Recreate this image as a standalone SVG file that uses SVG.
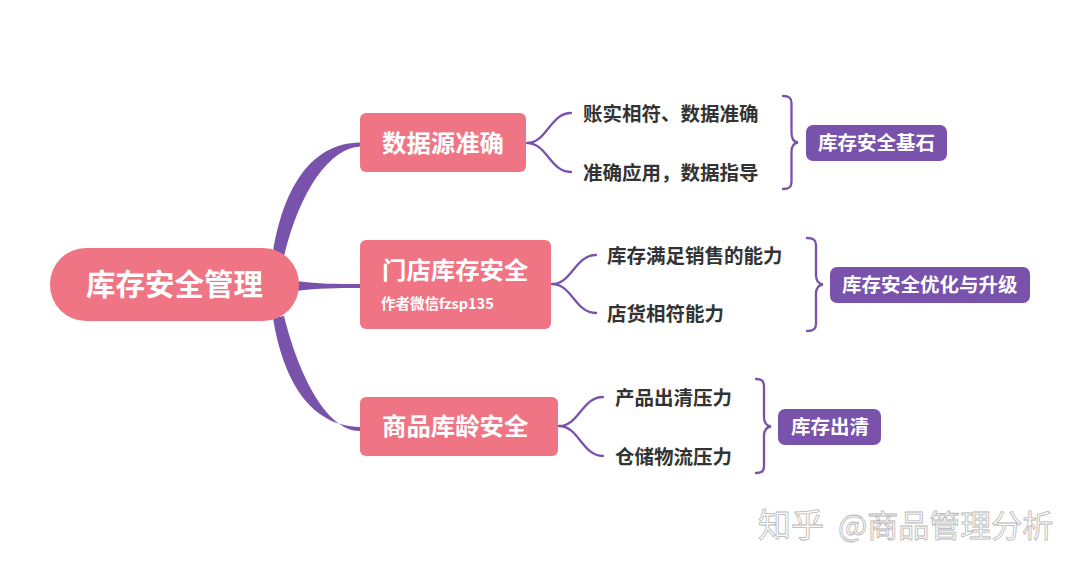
<svg xmlns="http://www.w3.org/2000/svg" width="1080" height="569" viewBox="0 0 1080 569">
<style>
text{font-family:"Noto Sans CJK SC","Liberation Sans",sans-serif;font-weight:700;dominant-baseline:central}
.pink{fill:#ef7585}
.tag{fill:#7852ab}
.w{fill:#fff}
.leaf{fill:#333;font-size:19.5px}
.t{fill:#fff;font-size:19.5px}
.n{fill:#fff;font-size:24.4px}
.line{fill:none;stroke:#7852ab;stroke-width:2.300;stroke-linecap:round}
.fat{fill:#7852ab}
</style>
<rect width="1080" height="569" fill="#fff"/>
<g id="connectors">
<path class="fat" d="M273,252C283,190 310,143 360,142.500L360,146.500C330,148 300,190 284,256Z"/>
<path class="fat" d="M296,281C320,284 335,284 360,284L360,288C335,288 320,288 296,291Z"/>
<path class="fat" d="M273,318C283,380 310,426 360,427L360,431C328,431 300,380 284,316Z"/>
<path class="line" d="M527,143C547,143 550,113 571,113M527,143C547,143 550,172 571,172"/>
<path class="line" d="M552,284C572,284 575,255 596,255M552,284C572,284 575,313 596,313"/>
<path class="line" d="M559,426C579,426 582,397 603,397M559,426C579,426 582,456 603,456"/>
<path class="line" d="M783,96C788,96 791.500,97 791.500,103V133C791.500,139 794,142 798,142.500C794,143 791.500,146 791.500,152V182C791.500,188 788,189 783,189"/>
<path class="line" d="M807,238C812,238 816,239 816,245V275C816,281 819,284 823,284.500C819,285 816,288 816,294V324C816,330 812,331 807,331"/>
<path class="line" d="M756,379C761,379 764,380 764,387V417C764,423 767,426 771,426.500C767,427 764,430 764,436V466C764,472 761,473 756,473"/>
</g>
<g id="root"><rect class="pink" x="50" y="248" width="249" height="73" rx="36"/><text class="w" x="86" y="282" font-size="29.500">库存安全管理</text></g>
<g id="n1"><rect class="pink" x="360" y="113" width="166" height="59" rx="6"/><text class="n" x="382" y="141">数据源准确</text></g>
<g id="n2"><rect class="pink" x="360" y="240" width="191" height="89" rx="6"/><text class="n" x="382" y="268.500">门店库存安全</text><text class="w" x="381" y="302" font-size="14.500">作者微信fzsp135</text></g>
<g id="n3"><rect class="pink" x="360" y="397" width="198" height="59" rx="6"/><text class="n" x="382" y="424.500">商品库龄安全</text></g>
<g id="l1"><text class="leaf" x="583" y="112.500">账实相符、数据准确</text></g>
<g id="l2"><text class="leaf" x="583" y="171.500">准确应用，数据指导</text></g>
<g id="l3"><text class="leaf" x="607" y="254.500">库存满足销售的能力</text></g>
<g id="l4"><text class="leaf" x="607" y="312.500">店货相符能力</text></g>
<g id="l5"><text class="leaf" x="615" y="396.500">产品出清压力</text></g>
<g id="l6"><text class="leaf" x="615" y="455.500">仓储物流压力</text></g>
<g id="t1"><rect class="tag" x="806" y="125" width="141" height="36" rx="7"/><text class="t" x="818" y="141.500">库存安全基石</text></g>
<g id="t2"><rect class="tag" x="830" y="267" width="200" height="36" rx="7"/><text class="t" x="842" y="283.500">库存安全优化与升级</text></g>
<g id="t3"><rect class="tag" x="778" y="409" width="103" height="36" rx="7"/><text class="t" x="791" y="425.500">库存出清</text></g>
<g id="watermark"><text y="522.500" style="font-weight:400" fill="#fff" stroke="#b5b5b5" stroke-width="0.800"><tspan x="758" font-size="33">知乎</tspan><tspan x="838" font-size="31">@商品管理分析</tspan></text></g>
</svg>
